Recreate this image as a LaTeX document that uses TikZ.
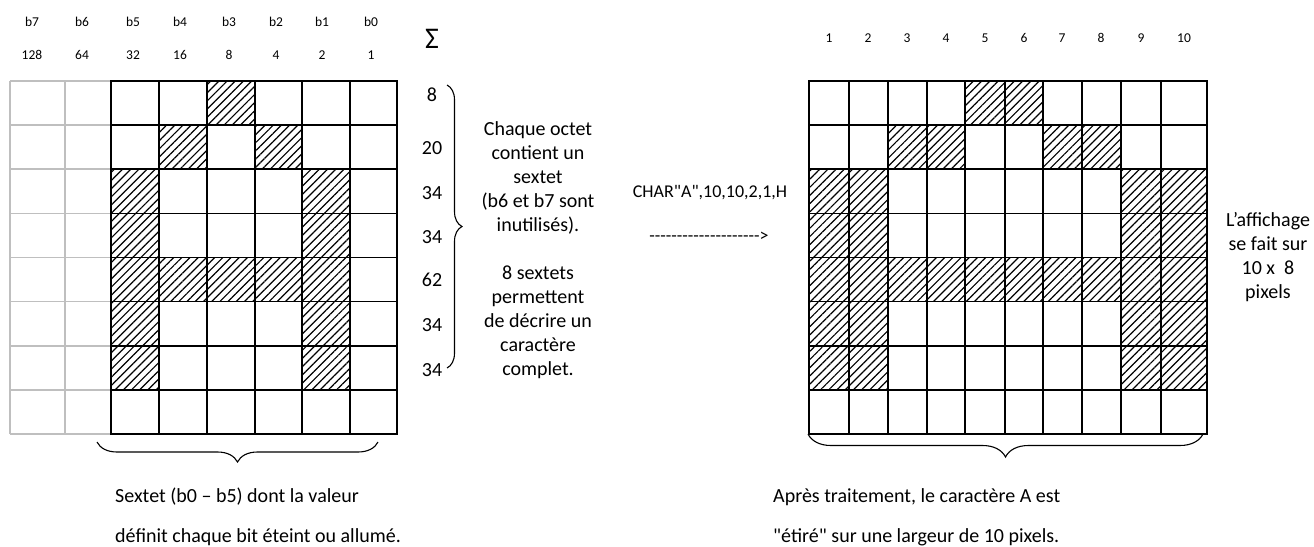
\documentclass[tikz,border=0pt]{standalone}
\usepackage{fontspec}
\setmainfont{Carlito}[Ligatures=TeXOff]
\usetikzlibrary{positioning,decorations.pathreplacing,patterns.meta}

\begin{document}
\begin{tikzpicture}[
  x=1pt, y=-1pt,
  font=\fontsize{20}{24}\selectfont,
  hdr/.style={font=\fontsize{13.5}{16}\selectfont, inner sep=0pt},
  txt/.style={inner sep=0pt, align=center},
  note/.style={inner sep=0pt, align=left, anchor=west},
  bitgrid/.style={line width=1.6pt, line cap=rect},
  offgrid/.style={line width=1.6pt, draw=black!25},
  hatch/.style={pattern={Lines[angle=45, distance=5.8pt, line width=1.2pt]}},
  brc/.style={decorate, decoration={brace, amplitude=#1}, line width=1.1pt}
]

\useasboundingbox (0,0) rectangle (1314,546);

% ---------------- left: bit grid b7..b0 ----------------
\foreach \r/\xa/\xb in {0/207/255, 1/159/207, 1/255/302, 2/111/159, 2/302/350,
                        3/111/159, 3/302/350, 4/111/350, 5/111/159, 5/302/350,
                        6/111/159, 6/302/350}
  \fill[hatch] (\xa,{81+\r*44.125}) rectangle (\xb,{81+(\r+1)*44.125});

% unused bits b7, b6 in grey
\foreach \r in {0,...,8}
  \draw[offgrid] (10,{81+\r*44.125}) -- (111,{81+\r*44.125});
\draw[offgrid] (10,81) -- (10,434) (65,81) -- (65,434);

\foreach \x in {111,159,207,255,302,350,397}
  \draw[bitgrid] (\x,81) -- (\x,434);
\foreach \r in {0,...,8}
  \draw[bitgrid] (111,{81+\r*44.125}) -- (397,{81+\r*44.125});

\foreach \b/\v/\x in {7/128/32, 6/64/82, 5/32/133, 4/16/180, 3/8/229, 2/4/276, 1/2/322, 0/1/371} {
  \node[hdr] (bit-\b) at (\x,22) {b\b};
  \node[hdr] (wt-\b) at (\x,55) {\v};
}

% ---------------- row sums ----------------
\node[inner sep=0pt, font=\fontsize{30}{34}\selectfont] (sigma) at (432,39) {Σ};
\foreach \s/\y [count=\i] in {8/95, 20/148, 34/193, 34/237, 62/280, 34/325, 34/370}
  \node[inner sep=0pt] (sum-\i) at (432,\y) {\s};

\coordinate (oct-top) at (447,85);
\coordinate (oct-bot) at (447,368);
\draw[brc=15] (oct-top) -- (oct-bot);

\node[txt] (octet) at (538,250) {Chaque octet\\contient un\\sextet\\(b6 et b7 sont\\inutilisés).\\[24pt]8 sextets\\permettent\\de décrire un\\caractère\\complet.};

% bottom brace + caption
\coordinate (sext-l) at (97,442);
\coordinate (sext-r) at (378,442);
\draw[brc=20] (sext-r) -- (sext-l);
\node[note] (sextet) at (115,517) {Sextet (b0 – b5) dont la valeur\\[16pt]définit chaque bit éteint ou allumé.};

% ---------------- command ----------------
\node[inner sep=0pt, font=\fontsize{18}{22}\selectfont] (cmd) at (710,193) {CHAR"A",10,10,2,1,H};
\node[inner sep=0pt, font=\fontsize{18}{22}\selectfont] (cmdarr) at (709,237) {-------------------->};

% ---------------- right: stretched 10 x 8 grid ----------------
\foreach \r/\xa/\xb in {0/965/1043, 1/888/965, 1/1043/1121, 2/809/888, 2/1121/1207,
                        3/809/888, 3/1121/1207, 4/809/1207, 5/809/888, 5/1121/1207,
                        6/809/888, 6/1121/1207}
  \fill[hatch] (\xa,{81+\r*44.125}) rectangle (\xb,{81+(\r+1)*44.125});

\foreach \x in {809,849,888,927,965,1005,1043,1082,1121,1161,1207}
  \draw[bitgrid] (\x,81) -- (\x,434);
\foreach \r in {0,...,8}
  \draw[bitgrid] (809,{81+\r*44.125}) -- (1207,{81+\r*44.125});

\foreach \n/\x in {1/829, 2/868, 3/907, 4/946, 5/985, 6/1024, 7/1062, 8/1101, 9/1141, 10/1184}
  \node[hdr] (px-\n) at (\x,38) {\n};

\node[txt] (display) at (1268,257) {L’affichage\\se fait sur\\10 x~ 8\\pixels};

\coordinate (wide-l) at (808,434);
\coordinate (wide-r) at (1203,434);
\draw[brc=23] (wide-r) -- (wide-l);
\node[note] (stretch) at (773,517) {Après traitement, le caractère A est\\[16pt]"étiré" sur une largeur de 10 pixels.};

\end{tikzpicture}
\end{document}
